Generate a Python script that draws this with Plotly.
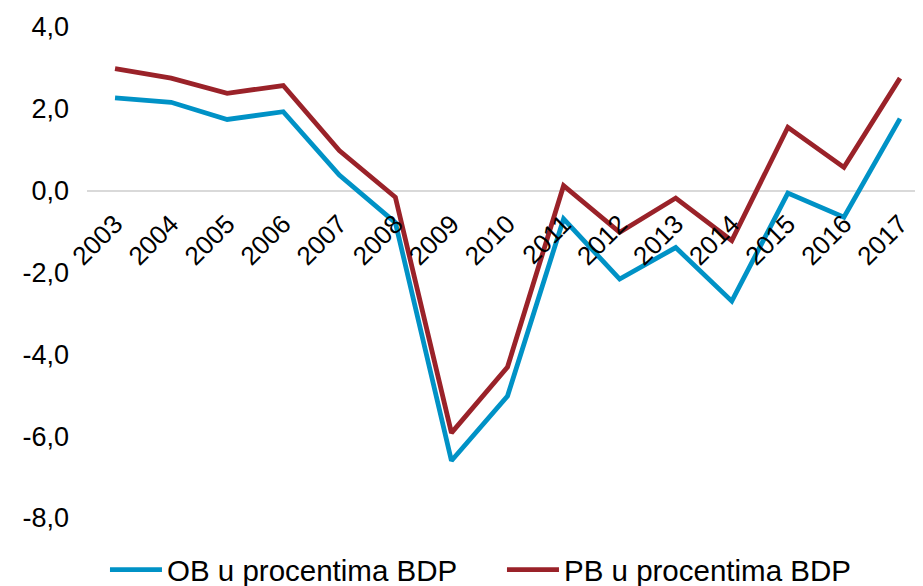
import plotly.graph_objects as go

years = ["2003", "2004", "2005", "2006", "2007", "2008", "2009", "2010",
         "2011", "2012", "2013", "2014", "2015", "2016", "2017"]
ob_values = [2.27, 2.16, 1.74, 1.93, 0.38, -0.78, -6.6, -5.02,
             -0.69, -2.16, -1.39, -2.7, -0.06, -0.65, 1.76]
pb_values = [2.98, 2.75, 2.38, 2.57, 0.98, -0.16, -5.92, -4.31,
             0.12, -1.02, -0.18, -1.22, 1.55, 0.57, 2.75]
y_ticks = [-8, -6, -4, -2, 0, 2, 4]
y_tick_labels = ["-8,0", "-6,0", "-4,0", "-2,0", "0,0", "2,0", "4,0"]

FONT = "Liberation Sans, Arial, sans-serif"
BLUE = "#0092c6"
RED = "#9a2229"

fig = go.Figure()
fig.add_trace(go.Scatter(x=years, y=ob_values, mode="lines",
                         name="OB u procentima BDP",
                         line=dict(color=BLUE, width=4.8)))
fig.add_trace(go.Scatter(x=years, y=pb_values, mode="lines",
                         name="PB u procentima BDP",
                         line=dict(color=RED, width=4.8)))

# page has an 8px body margin, so the figure is sized to 915x578
fig.update_layout(
    width=915, height=578,
    margin=dict(l=79, r=0, t=19, b=68, autoexpand=False),
    paper_bgcolor="white", plot_bgcolor="white",
    font=dict(family=FONT, size=27, color="#000000"),
    showlegend=True,
    legend=dict(orientation="h", x=0.0215, xanchor="left", y=-0.106,
                yanchor="middle", font=dict(size=29.5), itemwidth=52,
                entrywidth=330, bgcolor="rgba(0,0,0,0)"),
)
fig.update_xaxes(
    type="category", range=[-0.5, 14.41],
    anchor="free", position=2/3, automargin=False,
    showgrid=False, showline=False, zeroline=False,
    ticks="", tickangle=-45, tickfont=dict(size=26),
    ticklabelstandoff=12,
)
fig.update_yaxes(
    range=[-8, 4], automargin=False,
    tickvals=y_ticks, ticktext=y_tick_labels,
    showgrid=False, showline=False,
    zeroline=True, zerolinecolor="#d9d9d9", zerolinewidth=1.5,
    ticks="", tickfont=dict(size=27), ticklabelstandoff=17,
)

fig.write_html("out.html")
